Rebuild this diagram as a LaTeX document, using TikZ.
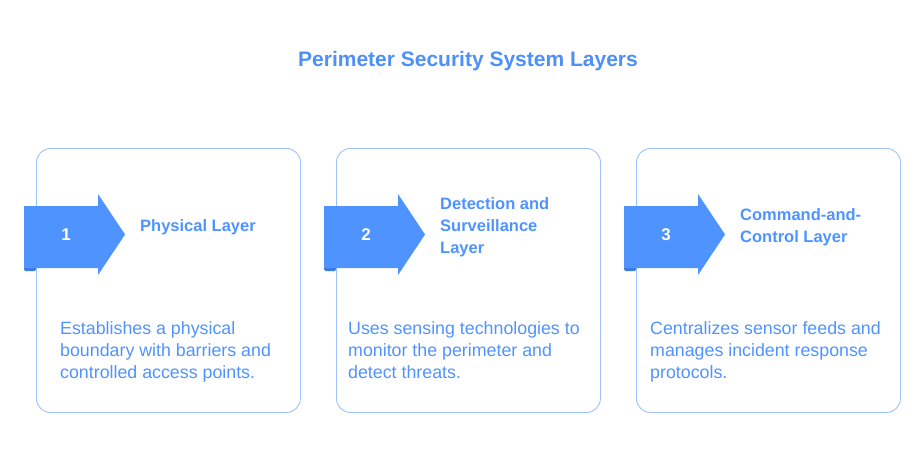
\documentclass[tikz,border=0pt]{standalone}
\usepackage{fontspec}
\setmainfont{Liberation Sans}
\definecolor{blu}{HTML}{4F93FF}
\definecolor{bord}{HTML}{9DC1FF}
\definecolor{tab}{HTML}{3B7BE6}
\definecolor{ttl}{HTML}{4D90FA}
\begin{document}
\begin{tikzpicture}[x=1pt,y=-1pt,
  card/.style={draw=bord,line width=0.9pt,rounded corners=14pt,minimum width=264pt,minimum height=264pt,anchor=north west},
  num/.style={text=white,font=\bfseries\fontsize{17}{20}\selectfont},
  head/.style={text=blu,font=\bfseries\fontsize{16.5}{22}\selectfont,align=left,anchor=west,inner sep=0pt},
  desc/.style={text=blu,font=\fontsize{17.8}{22}\selectfont,align=left,anchor=north west,inner sep=0pt}]
\useasboundingbox (0,0) rectangle (924,460);
\node[text=ttl,font=\bfseries\fontsize{21}{24}\selectfont] (title) at (468,61) {Perimeter Security System Layers};
\foreach \i/\x/\dx/\h/\d in {1/36/24/{Physical Layer}/{Establishes a physical\\boundary with barriers and\\controlled access points.},
  2/336/12/{Detection and\\Surveillance\\Layer}/{Uses sensing technologies to\\monitor the perimeter and\\detect threats.},
  3/636/14/{Command-and-\\Control Layer}/{Centralizes sensor feeds and\\manages incident response\\protocols.}}{
  \node[card] (c\i) at (\x,148) {};
  \fill[tab,rounded corners=1.5pt] (\x-12,265) rectangle (\x,271);
  \fill[blu] (\x-12,206) -- (\x+62,206) -- (\x+62,194) -- (\x+89,234.5) -- (\x+62,275) -- (\x+62,268) -- (\x-12,268) -- cycle;
  \node[num] (n\i) at (\x+30,235) {\i};
  \node[head] (h\i) at (\x+104,227) {\h};
  \node[desc] (d\i) at (\x+\dx,321) {\d};
}
\end{tikzpicture}
\end{document}
